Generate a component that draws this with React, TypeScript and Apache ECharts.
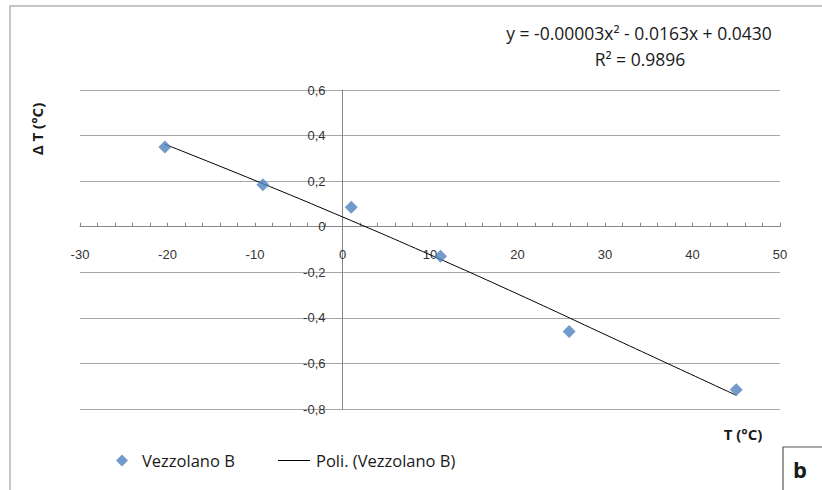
import React, { useEffect, useRef } from "react";
import * as echarts from "echarts";

const seriesName = "Vezzolano B";
const trendName = "Poli. (Vezzolano B)";
const tempC = [-20.3, -9.1, 1.0, 11.2, 25.9, 45.0];
const deltaT = [0.35, 0.184, 0.085, -0.13, -0.46, -0.715];
const trendT = [-20.3, -10, 0, 10, 20, 30, 45];
const trendDelta = [0.362, 0.203, 0.043, -0.123, -0.295, -0.473, -0.74];
const xMin = -30;
const xMax = 50;
const xStep = 10;
const yMin = -0.8;
const yMax = 0.6;
const yStep = 0.2;
const equationText = "y = -0.00003x² - 0.0163x + 0.0430";
const r2Text = "R² = 0.9896";
const xName = "T (°C)";
const yName = "Δ T (°C)";
const panelLetter = "b";

const GRID_LEFT = 80;
const GRID_RIGHT = 42;
const GRID_TOP = 90;
const GRID_BOTTOM = 81;
const W = 822;
const H = 490;

export default function App() {
  const ref = useRef<HTMLDivElement>(null);
  useEffect(() => {
    document.body.style.margin = "0";
    if (!ref.current) return;
    const chart = echarts.init(ref.current, null, { renderer: "svg" });
    const labelFont = "'Liberation Sans', Arial, sans-serif";
    const textFont = "'Open Sans', 'Noto Sans', sans-serif";
    const plotW = W - GRID_LEFT - GRID_RIGHT;
    const plotH = H - GRID_TOP - GRID_BOTTOM;
    // shift axes so they cross at zero (labels travel with them)
    const xAxisOffset = -((0 - yMin) / (yMax - yMin)) * plotH;
    const yAxisOffset = -((0 - xMin) / (xMax - xMin)) * plotW;
    chart.setOption({
      animation: false,
      backgroundColor: "#ffffff",
      grid: { left: GRID_LEFT, right: GRID_RIGHT, top: GRID_TOP, bottom: GRID_BOTTOM, containLabel: false },
      xAxis: {
        type: "value",
        position: "bottom",
        offset: xAxisOffset,
        min: xMin,
        max: xMax,
        interval: xStep,
        axisLine: { show: true, onZero: false, lineStyle: { color: "#868686", width: 1 } },
        axisTick: { show: true, inside: true, length: 4, lineStyle: { color: "#868686" } },
        minorTick: { show: true, splitNumber: 5, length: 4, lineStyle: { color: "#868686" } },
        splitLine: { show: false },
        axisLabel: {
          margin: 21,
          fontSize: 13,
          fontFamily: labelFont,
          color: "#333333",
          showMinLabel: true,
          showMaxLabel: true,
        },
      },
      yAxis: {
        type: "value",
        position: "left",
        offset: yAxisOffset,
        min: yMin,
        max: yMax,
        interval: yStep,
        axisLine: { show: true, onZero: false, lineStyle: { color: "#868686", width: 1 } },
        axisTick: { show: false },
        splitLine: { show: true, lineStyle: { color: "#a6a6a6", width: 1 } },
        axisLabel: {
          margin: 17,
          fontSize: 13,
          fontFamily: labelFont,
          color: "#333333",
          formatter: (v: number) => {
            const r = Math.round(v * 10) / 10;
            if (r === 0) return "0";
            return r.toFixed(1).replace(".", ",");
          },
        },
      },
      legend: [
        {
          data: [{ name: seriesName, icon: "diamond" }],
          left: 111,
          top: 447,
          itemWidth: 12,
          itemHeight: 12,
          selectedMode: false,
          textStyle: { fontSize: 16.5, fontFamily: textFont, color: "#1a1a1a", padding: [0, 0, 0, 9] },
        },
        {
          data: [{ name: trendName, icon: "rect", itemStyle: { color: "#000000" } }],
          left: 273,
          top: 447,
          itemWidth: 32,
          itemHeight: 1,
          selectedMode: false,
          textStyle: { fontSize: 16.5, fontFamily: textFont, color: "#1a1a1a", padding: [0, 0, 0, 1] },
        },
      ],
      series: [
        {
          name: seriesName,
          type: "scatter",
          symbol: "diamond",
          symbolSize: 13,
          itemStyle: { color: "#4f81bd" },
          data: tempC.map((t, i) => [t, deltaT[i]]),
          z: 3,
        },
        {
          name: trendName,
          type: "line",
          symbol: "none",
          smooth: true,
          lineStyle: { color: "#000000", width: 1 },
          itemStyle: { color: "#000000" },
          data: trendT.map((t, i) => [t, trendDelta[i]]),
          z: 2,
        },
      ],
      graphic: [
        {
          type: "rect",
          silent: true,
          z: -10,
          shape: { x: 10, y: 6, width: 840, height: 520 },
          style: { fill: "none", stroke: "#b4b4b4", lineWidth: 1.5 },
        },
        {
          type: "text",
          x: 639,
          y: 33,
          style: {
            text: equationText,
            fontSize: 17.5,
            fontFamily: textFont,
            fill: "#1a1a1a",
            align: "center",
            verticalAlign: "middle",
          },
        },
        {
          type: "text",
          x: 640,
          y: 59,
          style: {
            text: r2Text,
            fontSize: 17.5,
            fontFamily: textFont,
            fill: "#1a1a1a",
            align: "center",
            verticalAlign: "middle",
          },
        },
        {
          type: "text",
          x: 37,
          y: 129,
          rotation: Math.PI / 2,
          style: {
            text: yName,
            fontSize: 15,
            fontWeight: "bold",
            fontFamily: textFont,
            fill: "#1a1a1a",
            align: "center",
            verticalAlign: "middle",
          },
        },
        {
          type: "text",
          x: 743,
          y: 434,
          style: {
            text: xName,
            fontSize: 15,
            fontWeight: "bold",
            fontFamily: textFont,
            fill: "#1a1a1a",
            align: "center",
            verticalAlign: "middle",
          },
        },
        {
          type: "rect",
          shape: { x: 783, y: 447, width: 60, height: 60 },
          style: { fill: "#ffffff", stroke: "#595959", lineWidth: 1.2 },
        },
        {
          type: "text",
          x: 800,
          y: 469,
          style: {
            text: panelLetter,
            fontSize: 22,
            fontWeight: "bold",
            fontFamily: textFont,
            fill: "#1a1a1a",
            align: "center",
            verticalAlign: "middle",
          },
        },
      ],
    });
    return () => chart.dispose();
  }, []);
  return <div ref={ref} style={{ width: W, height: H }} />;
}
